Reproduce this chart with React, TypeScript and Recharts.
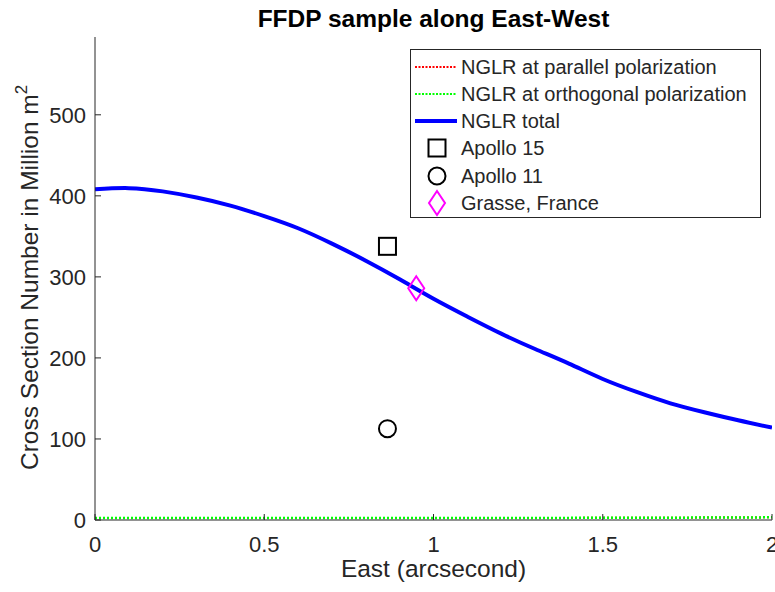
import React from 'react';
import { ComposedChart, Line, Scatter, XAxis, YAxis, Legend } from 'recharts';

const eastArcsec = [0, 0.1, 0.2, 0.3, 0.4, 0.5, 0.6, 0.7, 0.8, 0.9, 1.0, 1.1, 1.2, 1.3, 1.4, 1.5, 1.6, 1.7, 1.8, 1.9, 2.0];
const nglrTotal = [408, 409.5, 405.5, 398, 388, 375, 360, 341, 320, 297, 273, 251, 230, 211, 193, 174, 158, 144, 133, 123, 114];
const nglrParallel = [2.45, 2.45, 2.45, 2.45, 2.45, 2.46, 2.46, 2.46, 2.47, 2.47, 2.48, 2.5, 2.52, 2.55, 2.6, 2.66, 2.74, 2.84, 2.96, 3.1, 3.3];
const nglrOrthogonal = [2.47, 2.47, 2.47, 2.47, 2.47, 2.47, 2.47, 2.48, 2.48, 2.49, 2.5, 2.52, 2.54, 2.57, 2.62, 2.68, 2.76, 2.86, 2.98, 3.12, 3.3];

const apollo15 = [{ x: 0.864, y: 337.7 }];
const apollo11 = [{ x: 0.864, y: 112.7 }];
const grasse = [{ x: 0.949, y: 285.9 }];

const xTicks = [0, 0.5, 1, 1.5, 2];
const yTicks = [0, 100, 200, 300, 400, 500];

const legendLabels = [
  'NGLR at parallel polarization',
  'NGLR at orthogonal polarization',
  'NGLR total',
  'Apollo 15',
  'Apollo 11',
  'Grasse, France',
];

const curveData = eastArcsec.map((x, i) => ({
  x,
  total: nglrTotal[i],
  par: nglrParallel[i],
  orth: nglrOrthogonal[i],
}));

const FONT = '"Liberation Sans", Arial, Helvetica, sans-serif';
const AX = '#262626';

const XTick = (props: any) => {
  const { x, y, payload } = props;
  return (
    <g>
      <line x1={x} y1={y} x2={x} y2={y - 6} stroke={AX} strokeWidth={1} />
      <text x={x} y={y + 32} textAnchor="middle" fontFamily={FONT} fontSize={22} fill={AX}>
        {String(payload.value)}
      </text>
    </g>
  );
};

const YTick = (props: any) => {
  const { x, y, payload } = props;
  return (
    <g>
      <line x1={x} y1={y} x2={x + 6} y2={y} stroke={AX} strokeWidth={1} />
      <text x={x - 9} y={y + 8} textAnchor="end" fontFamily={FONT} fontSize={22} fill={AX}>
        {String(payload.value)}
      </text>
    </g>
  );
};

const SquareShape = (props: any) => {
  const { cx, cy } = props;
  return <rect x={cx - 8.5} y={cy - 8.5} width={17} height={17} fill="none" stroke="#000" strokeWidth={2} />;
};
const CircleShape = (props: any) => {
  const { cx, cy } = props;
  return <circle cx={cx} cy={cy} r={8.5} fill="none" stroke="#000" strokeWidth={2} />;
};
const DiamondShape = (props: any) => {
  const { cx, cy } = props;
  return (
    <path
      d={`M${cx},${cy - 12} L${cx + 8},${cy} L${cx},${cy + 12} L${cx - 8},${cy} Z`}
      fill="none"
      stroke="#FF00FF"
      strokeWidth={2}
    />
  );
};

const LegendBox = () => {
  const rows = [18, 45, 72, 99, 127, 154];
  return (
    <svg width={352} height={170} style={{ display: 'block' }}>
      <rect x={0.5} y={0.5} width={350} height={168} fill="#fff" stroke={AX} strokeWidth={1} />
      <line x1={5} x2={47} y1={rows[0]} y2={rows[0]} stroke="#FF0000" strokeWidth={2} strokeDasharray="2 1.5" />
      <line x1={5} x2={47} y1={rows[1]} y2={rows[1]} stroke="#00FF00" strokeWidth={2} strokeDasharray="2 1.5" />
      <line x1={5} x2={47} y1={rows[2]} y2={rows[2]} stroke="#0000FF" strokeWidth={4} />
      <SquareShape cx={27} cy={rows[3]} />
      <CircleShape cx={27} cy={rows[4]} />
      <DiamondShape cx={27} cy={rows[5]} />
      {legendLabels.map((t, i) => (
        <text key={t} x={51} y={rows[i] + 7} fontFamily={FONT} fontSize={20} fill={AX}>
          {t}
        </text>
      ))}
    </svg>
  );
};

const YLabel = () => (
  <text
    x={38}
    y={470}
    transform="rotate(-90, 38, 470)"
    textAnchor="start"
    fontFamily={FONT}
    fontSize={24.5}
    fill={AX}
  >
    Cross Section Number in Million m
    <tspan dy={-11} fontSize={17}>2</tspan>
  </text>
);

const XLabel = () => (
  <text x={433.5} y={577} textAnchor="middle" fontFamily={FONT} fontSize={24.5} fill={AX}>
    East (arcsecond)
  </text>
);

export default function App() {
  return (
    <div style={{ position: 'absolute', left: 0, top: 0, width: 775, height: 592, background: '#fff' }}>
      <ComposedChart
        width={775}
        height={592}
        data={curveData}
        margin={{ top: 37, right: 3, bottom: 0, left: 0 }}
      >
        <XAxis
          dataKey="x"
          type="number"
          domain={[0, 2]}
          ticks={xTicks}
          interval={0}
          height={72}
          tickSize={0}
          tickMargin={0}
          tickLine={false}
          axisLine={{ stroke: AX, strokeWidth: 1 }}
          tick={<XTick />}
          label={{ content: () => <XLabel /> }}
          allowDataOverflow
        />
        <YAxis
          dataKey="y"
          type="number"
          domain={[0, 596]}
          ticks={yTicks}
          interval={0}
          width={95}
          tickSize={0}
          tickMargin={0}
          tickLine={false}
          axisLine={{ stroke: AX, strokeWidth: 1 }}
          tick={<YTick />}
          label={{ content: () => <YLabel /> }}
          allowDataOverflow
        />
        <Line
          dataKey="par"
          type="natural"
          stroke="#FF0000"
          strokeWidth={2}
          strokeDasharray="2 2"
          dot={false}
          activeDot={false}
          isAnimationActive={false}
        />
        <Line
          dataKey="orth"
          type="natural"
          stroke="#00FF00"
          strokeWidth={2.5}
          strokeDasharray="2 2"
          dot={false}
          activeDot={false}
          isAnimationActive={false}
        />
        <Line
          dataKey="total"
          type="natural"
          stroke="#0000FF"
          strokeWidth={4}
          dot={false}
          activeDot={false}
          isAnimationActive={false}
        />
        <Scatter data={apollo15} dataKey="y" shape={<SquareShape />} isAnimationActive={false} />
        <Scatter data={apollo11} dataKey="y" shape={<CircleShape />} isAnimationActive={false} />
        <Scatter data={grasse} dataKey="y" shape={<DiamondShape />} isAnimationActive={false} />
        <Legend
          layout="horizontal"
          verticalAlign="middle"
          align="center"
          content={() => <LegendBox />}
          wrapperStyle={{ position: 'absolute', left: 410, top: 49, width: 352, height: 170 }}
        />
      </ComposedChart>
      <svg width={775} height={40} style={{ position: 'absolute', left: 0, top: 0 }}>
        <text x={433.5} y={27} textAnchor="middle" fontFamily={FONT} fontSize={24.5} fontWeight="bold" fill="#000">
          FFDP sample along East-West
        </text>
      </svg>
    </div>
  );
}
